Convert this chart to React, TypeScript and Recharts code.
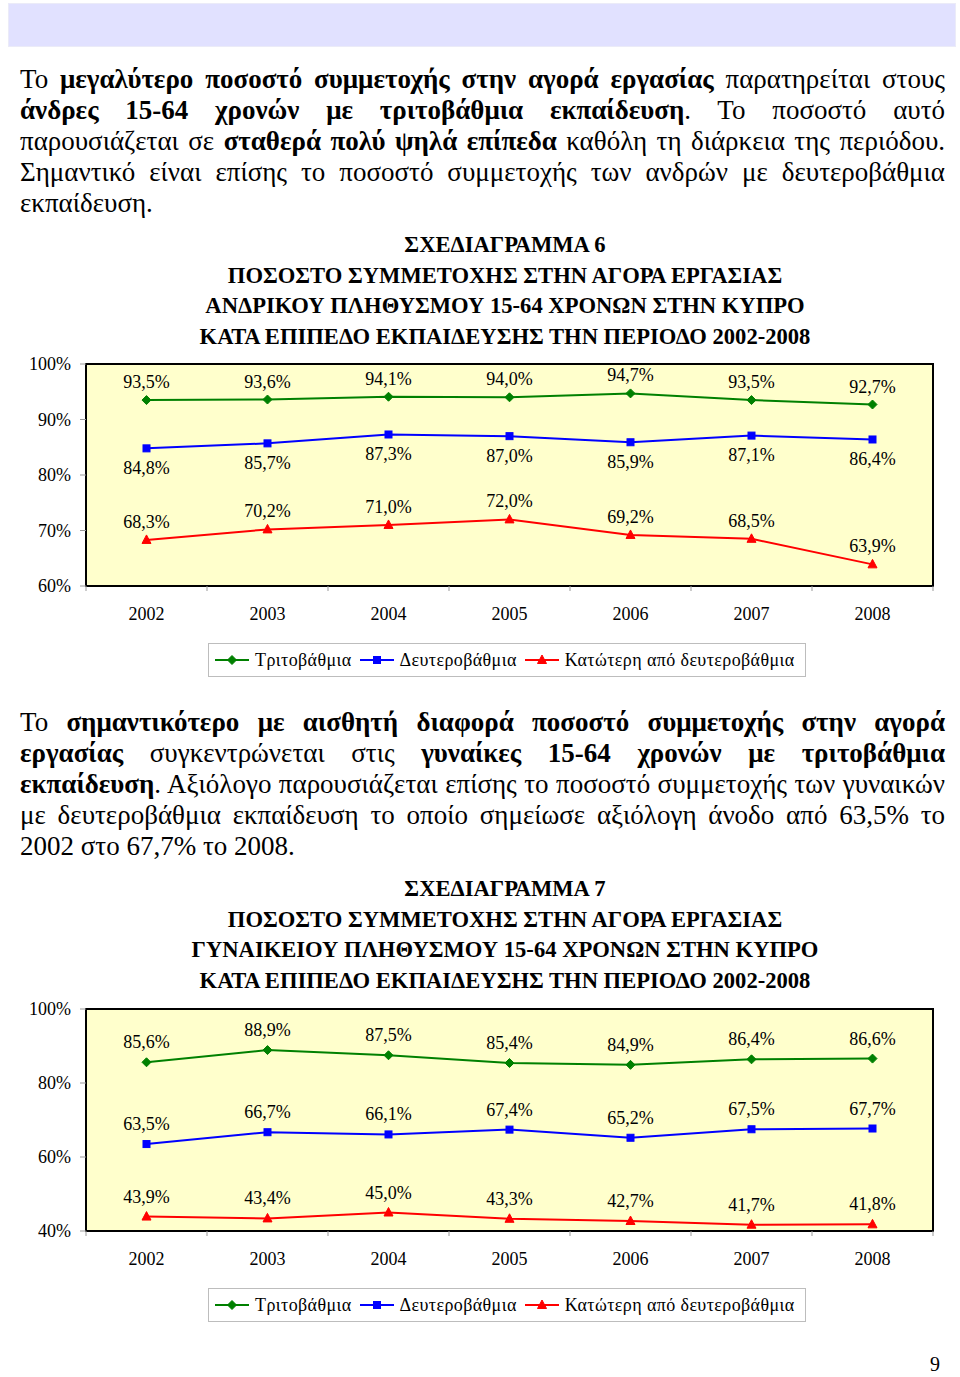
import React from 'react';
import { LineChart, Line, XAxis, YAxis, CartesianGrid, LabelList, Legend, usePlotArea } from 'recharts';

const years = ['2002', '2003', '2004', '2005', '2006', '2007', '2008'];

// ΣΧΕΔΙΑΓΡΑΜΜΑ 6 - άνδρες
const menTertiary = [93.5, 93.6, 94.1, 94.0, 94.7, 93.5, 92.7];
const menSecondary = [84.8, 85.7, 87.3, 87.0, 85.9, 87.1, 86.4];
const menLower = [68.3, 70.2, 71.0, 72.0, 69.2, 68.5, 63.9];

// ΣΧΕΔΙΑΓΡΑΜΜΑ 7 - γυναίκες
const womenTertiary = [85.6, 88.9, 87.5, 85.4, 84.9, 86.4, 86.6];
const womenSecondary = [63.5, 66.7, 66.1, 67.4, 65.2, 67.5, 67.7];
const womenLower = [43.9, 43.4, 45.0, 43.3, 42.7, 41.7, 41.8];

const seriesNames = ['Τριτοβάθμια', 'Δευτεροβάθμια', 'Κατώτερη από δευτεροβάθμια'];
const menTicks = [60, 70, 80, 90, 100];
const womenTicks = [40, 60, 80, 100];

const menTitle = [
  'ΣΧΕΔΙΑΓΡΑΜΜΑ 6',
  'ΠΟΣΟΣΤΟ ΣΥΜΜΕΤΟΧΗΣ ΣΤΗΝ ΑΓΟΡΑ ΕΡΓΑΣΙΑΣ',
  'ΑΝΔΡΙΚΟΥ ΠΛΗΘΥΣΜΟΥ 15-64 ΧΡΟΝΩΝ ΣΤΗΝ ΚΥΠΡΟ',
  'ΚΑΤΑ ΕΠΙΠΕΔΟ ΕΚΠΑΙΔΕΥΣΗΣ ΤΗΝ ΠΕΡΙΟΔΟ 2002-2008',
];
const womenTitle = [
  'ΣΧΕΔΙΑΓΡΑΜΜΑ 7',
  'ΠΟΣΟΣΤΟ ΣΥΜΜΕΤΟΧΗΣ ΣΤΗΝ ΑΓΟΡΑ ΕΡΓΑΣΙΑΣ',
  'ΓΥΝΑΙΚΕΙΟΥ ΠΛΗΘΥΣΜΟΥ 15-64 ΧΡΟΝΩΝ ΣΤΗΝ ΚΥΠΡΟ',
  'ΚΑΤΑ ΕΠΙΠΕΔΟ ΕΚΠΑΙΔΕΥΣΗΣ ΤΗΝ ΠΕΡΙΟΔΟ 2002-2008',
];

const SERIF = '"Liberation Serif", "Times New Roman", serif';
const COLORS = ['#008000', '#0000ff', '#ff0000'];

const fmt = (v: number) => `${v.toFixed(1).replace('.', ',')}%`;

// lines of text: [text, bold] pieces
type Piece = [string, boolean];
const para1: Piece[][] = [
  [['Το ', false], ['μεγαλύτερο ποσοστό συμμετοχής στην αγορά εργασίας', true], [' παρατηρείται στους', false]],
  [['άνδρες 15-64 χρονών με τριτοβάθμια εκπαίδευση', true], ['. Το ποσοστό αυτό', false]],
  [['παρουσιάζεται σε ', false], ['σταθερά πολύ ψηλά επίπεδα', true], [' καθόλη τη διάρκεια της περιόδου.', false]],
  [['Σημαντικό είναι επίσης το ποσοστό συμμετοχής των ανδρών με δευτεροβάθμια', false]],
  [['εκπαίδευση.', false]],
];
const para2: Piece[][] = [
  [['Το ', false], ['σημαντικότερο με αισθητή διαφορά ποσοστό συμμετοχής στην αγορά', true]],
  [['εργασίας', true], [' συγκεντρώνεται στις ', false], ['γυναίκες 15-64 χρονών με τριτοβάθμια', true]],
  [['εκπαίδευση', true], ['. Αξιόλογο παρουσιάζεται επίσης το ποσοστό συμμετοχής των γυναικών', false]],
  [['με δευτεροβάθμια εκπαίδευση το οποίο σημείωσε αξιόλογη άνοδο από 63,5% το', false]],
  [['2002 στο 67,7% το 2008.', false]],
];

function Paragraph({ top, lines }: { top: number; lines: Piece[][] }) {
  return (
    <div style={{ position: 'absolute', left: 20, top, width: 925, fontFamily: SERIF, fontSize: 27, lineHeight: '31px', color: '#000' }}>
      {lines.map((ln, i) => (
        <div key={i} style={{ textAlign: 'justify', textAlignLast: i === lines.length - 1 ? 'left' : 'justify' }}>
          {ln.map(([t, b], j) => (
            <span key={j} style={{ fontWeight: b ? 'bold' : 'normal' }}>{t}</span>
          ))}
        </div>
      ))}
    </div>
  );
}

function Title({ top, lines }: { top: number; lines: string[] }) {
  return (
    <div style={{ position: 'absolute', left: 105, top, width: 800, textAlign: 'center', whiteSpace: 'nowrap', fontFamily: SERIF, fontWeight: 'bold', fontSize: 22.6, lineHeight: '30.7px', color: '#000' }}>
      {lines.map((l, i) => <div key={i}>{l}</div>)}
    </div>
  );
}

function Marker({ kind, cx, cy, color }: { kind: number; cx: number; cy: number; color: string }) {
  if (cx == null || cy == null) return null;
  if (kind === 0) {
    const r = 4.5;
    return <polygon points={`${cx},${cy - r} ${cx + r},${cy} ${cx},${cy + r} ${cx - r},${cy}`} fill={color} stroke={color} />;
  }
  if (kind === 1) {
    return <rect x={cx - 3.5} y={cy - 3.5} width={7} height={7} fill={color} stroke={color} />;
  }
  return <polygon points={`${cx},${cy - 5} ${cx + 4.5},${cy + 3.5} ${cx - 4.5},${cy + 3.5}`} fill={color} stroke={color} />;
}

function PlotFrame() {
  const p = usePlotArea();
  if (!p) return null;
  return <rect x={p.x} y={p.y} width={p.width} height={p.height} fill="none" stroke="#000" strokeWidth={2} />;
}

function YearTick(props: any) {
  const { x, y, payload, index, visibleTicksCount } = props;
  const half = payload.offset ?? 0;
  return (
    <g>
      <line x1={x - half} x2={x - half} y1={y} y2={y + 5} stroke="#999" />
      {index === visibleTicksCount - 1 && <line x1={x + half} x2={x + half} y1={y} y2={y + 5} stroke="#999" />}
      <text x={x} y={y + 28} textAnchor="middle" dominantBaseline="central" fontFamily={SERIF} fontSize={18} fill="#000">
        {payload.value}
      </text>
    </g>
  );
}

function LegendBox({ payload }: any) {
  const items = [...(payload || [])].sort((a: any, b: any) => seriesNames.indexOf(a.value) - seriesNames.indexOf(b.value));
  return (
    <div style={{ marginLeft: 208, width: 598, height: 34, boxSizing: 'border-box', border: '1px solid #bdbdbd', background: '#fff', display: 'flex', alignItems: 'center', paddingLeft: 6, fontFamily: SERIF, fontSize: 18, letterSpacing: 0.4, color: '#000' }}>
      {items.map((e: any) => {
        const kind = seriesNames.indexOf(e.value);
        return (
          <div key={e.value} style={{ display: 'flex', alignItems: 'center', marginRight: 8 }}>
            <svg width={34} height={12} style={{ marginRight: 6 }}>
              <line x1={0} x2={34} y1={6} y2={6} stroke={e.color} strokeWidth={2} />
              <Marker kind={kind} cx={17} cy={6} color={e.color} />
            </svg>
            <span>{e.value}</span>
          </div>
        );
      })}
    </div>
  );
}

function Chart({ top, t, s, l, ticks, secondaryBelow, labelGap }: {
  top: number; t: number[]; s: number[]; l: number[]; ticks: number[]; secondaryBelow: boolean; labelGap: number;
}) {
  const data = years.map((y, i) => ({ year: y, t: t[i], s: s[i], l: l[i] }));
  const keys = ['t', 's', 'l'];
  return (
    <div style={{ position: 'absolute', left: 0, top }}>
      <LineChart width={960} height={332} data={data} margin={{ top: 14, right: 27, bottom: 5, left: 0 }}>
        <CartesianGrid horizontal={false} vertical={false} fill="#ffffcc" />
        <XAxis dataKey="year" scale="band" height={57} axisLine={false} tickLine={false} tickSize={0} tickMargin={0} tick={<YearTick />} interval={0} />
        <YAxis
          width={86}
          domain={[ticks[0], ticks[ticks.length - 1]]}
          ticks={ticks}
          axisLine={false}
          tickSize={6}
          tickMargin={9}
          tickLine={{ stroke: '#999' }}
          tickFormatter={(v: number) => `${v}%`}
          tick={{ fontFamily: SERIF, fontSize: 18, fill: '#000' }}
        />
        <Legend verticalAlign="bottom" content={<LegendBox />} />
        {keys.map((k, i) => {
          const below = i === 1 && secondaryBelow;
          return (
            <Line
              key={k}
              dataKey={k}
              name={seriesNames[i]}
              type="linear"
              stroke={COLORS[i]}
              strokeWidth={2}
              isAnimationActive={false}
              dot={(p: any) => <Marker key={`${k}-${p.index}`} kind={i} cx={p.cx} cy={p.cy} color={COLORS[i]} />}
              activeDot={false}
            >
              <LabelList
                dataKey={k}
                position={below ? 'bottom' : 'top'}
                offset={below ? 13 : labelGap}
                formatter={(v: any) => fmt(Number(v))}
                fill="#000"
                fontFamily={SERIF}
                fontSize={18}
              />
            </Line>
          );
        })}
        <PlotFrame />
      </LineChart>
    </div>
  );
}

export default function App() {
  return (
    <div style={{ position: 'absolute', left: 0, top: 0, width: 960, height: 1377, background: '#fff', overflow: 'hidden' }}>
      <div style={{ position: 'absolute', left: 8, top: 3, width: 948, height: 44, boxSizing: 'border-box', background: '#e1e1ff', border: '1px solid #ebebf8' }} />
      <Paragraph top={64} lines={para1} />
      <Title top={230} lines={menTitle} />
      <Chart top={350} t={menTertiary} s={menSecondary} l={menLower} ticks={menTicks} secondaryBelow labelGap={12} />
      <Paragraph top={707} lines={para2} />
      <Title top={874} lines={womenTitle} />
      <Chart top={995} t={womenTertiary} s={womenSecondary} l={womenLower} ticks={womenTicks} secondaryBelow={false} labelGap={14} />
      <div style={{ position: 'absolute', left: 930, top: 1353, fontFamily: SERIF, fontSize: 20, color: '#000' }}>9</div>
    </div>
  );
}
